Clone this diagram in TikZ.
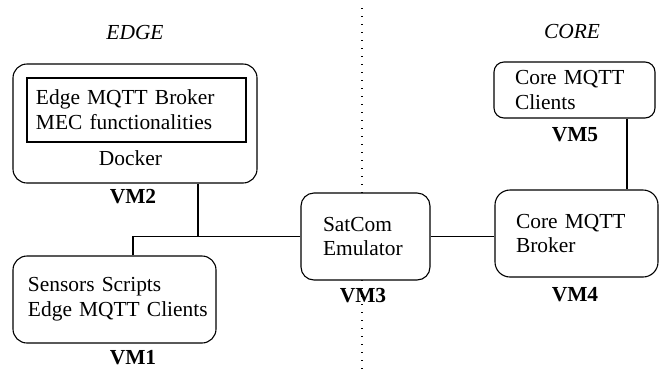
\documentclass[tikz,border=0pt]{standalone}
\usepackage{fontspec}
\setmainfont{Liberation Serif}
\begin{document}
\begin{tikzpicture}[x=1bp,y=-1bp,
  every node/.style={font=\fontsize{21.5}{25}\selectfont},
  vmbox/.style={draw,line width=1.1bp,rounded corners=14bp,fill=white,align=left,inner ysep=0pt},
  vmlabel/.style={font=\fontsize{21.5}{25}\selectfont\bfseries,inner sep=0pt},
  zone/.style={font=\fontsize{21.5}{25}\selectfont\itshape,inner sep=0pt},
  wire/.style={line width=1.1bp}]
\useasboundingbox (0,0) rectangle (662,379);
% dotted separator (behind boxes)
\coordinate (dtop) at (362,8);
\coordinate (dbot) at (362,372);
\draw[line width=1.3bp,dash pattern=on 1.3bp off 6.7bp] (dtop) -- (dbot);
% VM2
\node[vmbox,minimum width=244bp,minimum height=119bp] (vm2) at (135,123.5) {};
\node[draw,line width=1.1bp,align=left,text width=201bp,inner xsep=9bp,minimum height=64bp] (broker) at (136.5,110)
  {Edge MQTT Broker\\MEC functionalities};
\node[inner sep=0pt] (docker) at (130.5,158) {Docker};
\node[vmlabel] (l2) at (133,197) {VM2};
% VM1
\node[vmbox,text width=200bp,inner xsep=1.5bp,minimum height=87bp] (vm1) at (114.5,299.5)
  {\hspace*{13.5bp}Sensors Scripts\\\hspace*{13.5bp}Edge MQTT Clients};
\node[vmlabel] (l1) at (133,358) {VM1};
% VM3
\node[vmbox,rounded corners=13bp,text width=85bp,inner xsep=22bp,minimum height=87bp] (vm3) at (365.5,236.5)
  {SatCom\\Emulator};
\node[vmlabel] (l3) at (363,296) {VM3};
% VM4
\node[vmbox,rounded corners=15bp,text width=121bp,inner xsep=21bp,minimum height=87bp] (vm4) at (576.5,233.5)
  {Core MQTT\\Broker};
\node[vmlabel] (l4) at (575,295) {VM4};
% VM5
\node[vmbox,rounded corners=10bp,text width=119bp,inner xsep=21bp,minimum height=56bp] (vm5) at (574.5,90)
  {Core MQTT\\Clients};
\node[vmlabel] (l5) at (575,135) {VM5};
% zones
\node[zone] (edge) at (135,32) {EDGE};
\node[zone] (core) at (572,32) {CORE};
% connectors
\coordinate (j2) at (198,236.5);
\coordinate (j1) at (133,236.5);
\draw[wire] (vm2.south -| j2) -- (j2) -- (vm3.west);
\draw[wire] (vm1.north -| j1) -- (j1) -- (j2);
\draw[wire] (vm3.east) -- (vm4.west |- vm3.east);
\coordinate (c5) at (627,0);
\draw[wire] (vm5.south -| c5) -- (vm4.north -| c5);
\end{tikzpicture}
\end{document}
